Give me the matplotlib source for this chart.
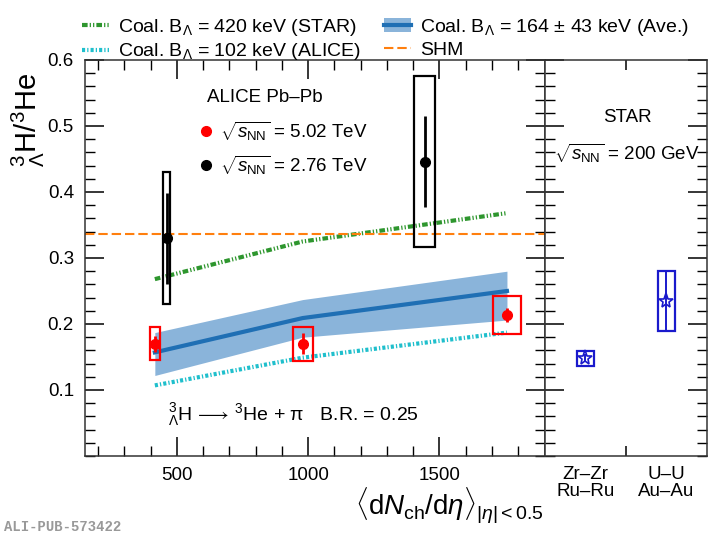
import matplotlib
matplotlib.use("Agg")
import matplotlib.pyplot as plt
from matplotlib.patches import Rectangle, Patch
from matplotlib.lines import Line2D
from matplotlib.ticker import MultipleLocator, FixedLocator, NullFormatter

plt.rcParams['font.family'] = ['Liberation Sans', 'DejaVu Sans']
plt.rcParams['mathtext.fontset'] = 'custom'
plt.rcParams['mathtext.rm'] = 'Liberation Sans'
plt.rcParams['mathtext.it'] = 'Liberation Sans:italic'
plt.rcParams['mathtext.bf'] = 'Liberation Sans:bold'

# ---------------- data ----------------
model_x = [416, 979, 1757]
coal_star = [0.268, 0.325, 0.368]
coal_alice = [0.107, 0.149, 0.187]
coal_ave = [0.157, 0.209, 0.250]
coal_ave_lo = [0.122, 0.180, 0.206]
coal_ave_hi = [0.187, 0.237, 0.280]
shm_value = 0.337

pb502_x = [416, 979, 1757]
pb502_y = [0.170, 0.170, 0.2135]
pb502_stat = [0.012, 0.016, 0.010]
pb502_sys = [0.025, 0.026, 0.029]
pb502_xsys = [20, 38, 52]

pb276_x = [461, 1443]
pb276_y = [0.330, 0.446]
pb276_stat = [0.069, 0.069]
pb276_sys = [0.100, 0.130]
pb276_xsys = [14, 39]

star_labels = ['Zr\u2013Zr\nRu\u2013Ru', 'U\u2013U\nAu\u2013Au']
star_x = [1, 2]
star_y = [0.148, 0.235]
star_stat = [0.006, 0.047]
star_sys = [0.011, 0.045]
star_xsys = [0.105, 0.105]

xticks_left = [500, 1000, 1500]
yticks = [0.1, 0.2, 0.3, 0.4, 0.5, 0.6]

# ---------------- figure ----------------
W, H = 711, 535
fig = plt.figure(figsize=(W / 100, H / 100), dpi=100)
axL = fig.add_axes([85 / W, 1 - 456 / H, (544.5 - 85) / W, (456 - 60) / H])
axR = fig.add_axes([544.5 / W, 1 - 456 / H, (707 - 544.5) / W, (456 - 60) / H])

green = '#2e962e'
cyan = '#1fbfcc'
blue = '#1f6fb4'
band = '#8ab4da'
orange = '#ff7f0e'
starblue = '#1a1acc'

green_dash = (1.35, 0.5, 0.3, 0.5, 0.3, 0.5)
cyan_dash = (0.75, 0.5, 0.3, 0.5)
shm_dash = (4.5, 1.9)

# models
axL.fill_between(model_x, coal_ave_lo, coal_ave_hi, color=band, lw=0, zorder=1)
axL.plot(model_x, coal_ave, color=blue, lw=3, zorder=2)
axL.plot(model_x, coal_star, color=green, lw=3, dashes=green_dash, zorder=2)
axL.plot(model_x, coal_alice, color=cyan, lw=3, dashes=cyan_dash, zorder=2)
axL.axhline(shm_value, color=orange, lw=1.5, dashes=shm_dash, zorder=2)

# data boxes
for x, y, s, xs in zip(pb502_x, pb502_y, pb502_sys, pb502_xsys):
    axL.add_patch(Rectangle((x - xs, y - s), 2 * xs, 2 * s, fill=False,
                            edgecolor='red', lw=1.6, zorder=4))
for x, y, s, xs in zip(pb276_x, pb276_y, pb276_sys, pb276_xsys):
    axL.add_patch(Rectangle((x - xs, y - s), 2 * xs, 2 * s, fill=False,
                            edgecolor='black', lw=1.6, zorder=4))
axL.errorbar(pb502_x, pb502_y, yerr=pb502_stat, fmt='o', color='red', ms=7,
             elinewidth=2, capsize=0, zorder=5)
axL.errorbar(pb276_x, pb276_y, yerr=pb276_stat, fmt='o', color='black', ms=7,
             elinewidth=2, capsize=0, zorder=5)

axL.set_xlim(150, 1900)
axL.set_ylim(0.0, 0.6)
axL.xaxis.set_major_locator(FixedLocator(xticks_left))
axL.xaxis.set_minor_locator(MultipleLocator(100))
axL.yaxis.set_major_locator(FixedLocator(yticks))
axL.yaxis.set_minor_locator(MultipleLocator(0.02))
axL.set_yticklabels(['%.1f' % v for v in yticks])
axL.tick_params(which='both', direction='in', top=True, right=True,
                labelsize=13.5, pad=8)
axL.tick_params(axis='x', pad=8)
axL.tick_params(which='major', length=14, width=1.1)
axL.tick_params(which='minor', length=7, width=1.0)

# STAR panel
for x, y, s, xs in zip(star_x, star_y, star_sys, star_xsys):
    axR.add_patch(Rectangle((x - xs, y - s), 2 * xs, 2 * s, fill=False,
                            edgecolor=starblue, lw=1.6, zorder=4))
axR.errorbar(star_x, star_y, yerr=star_stat, fmt='*', color=starblue, mfc='none',
             ms=11, mew=1.2, elinewidth=1.4, capsize=0, zorder=5)
axR.set_xlim(0.5, 2.5)
axR.set_ylim(0.0, 0.6)
axR.xaxis.set_major_locator(FixedLocator([1.5]))
axR.xaxis.set_major_formatter(NullFormatter())
axR.yaxis.set_major_locator(FixedLocator(yticks))
axR.yaxis.set_minor_locator(MultipleLocator(0.02))
axR.yaxis.set_major_formatter(NullFormatter())
axR.tick_params(which='both', direction='in', top=True, right=True, left=True)
axR.tick_params(which='major', length=14, width=1.1)
axR.tick_params(which='minor', length=7, width=1.0)
axR.tick_params(axis='x', which='major', length=7)
for x, lab in zip(star_x, star_labels):
    axR.text(x, -0.025, lab, transform=axR.get_xaxis_transform(), ha='center',
             va='top', fontsize=13.5, linespacing=1.0)

for ax in (axL, axR):
    for sp in ax.spines.values():
        sp.set_linewidth(1.1)
        sp.set_color('#333333')

# texts
fig.text(207 / W, 1 - 98 / H, 'ALICE Pb\u2013Pb', fontsize=13.5, va='center')
fig.text(220 / W, 1 - 131 / H, r'$\sqrt{s_{\mathrm{NN}}}$ = 5.02 TeV', fontsize=13.5, va='center')
fig.text(220 / W, 1 - 165 / H, r'$\sqrt{s_{\mathrm{NN}}}$ = 2.76 TeV', fontsize=13.5, va='center')
fig.add_artist(Line2D([206 / W], [1 - 131 / H], marker='o', color='red', ms=7))
fig.add_artist(Line2D([206 / W], [1 - 165 / H], marker='o', color='black', ms=7))
fig.text(627 / W, 1 - 118 / H, 'STAR', fontsize=13.5, ha='center', va='center')
fig.text(627 / W, 1 - 153 / H, r'$\sqrt{s_{\mathrm{NN}}}$ = 200 GeV', fontsize=13.5,
         ha='center', va='center')
fig.text(168 / W, 1 - 415 / H,
         r'${}^{3}_{\Lambda}$H$\,\longrightarrow\,{}^{3}$He + π   B.R. = 0.25',
         fontsize=14, va='center')

fig.text(28 / W, 1 - 120 / H, r'${}^{3}_{\Lambda}\mathrm{H}/{}^{3}\mathrm{He}$',
         rotation=90, fontsize=21, ha='center', va='center')
fig.text(544 / W, 1 - 506 / H,
         r'$\langle \mathrm{d}N_{\mathrm{ch}}/\mathrm{d}\eta\rangle_{|\eta|<0.5}$',
         fontsize=20, ha='right', va='center')
fig.text(4 / W, 1 - 527 / H, 'ALI-PUB-573422', fontsize=10, color='#999999',
         family='Liberation Mono', weight='bold', va='center')

# legend
h_green = Line2D([], [], color=green, lw=3, dashes=green_dash)
h_cyan = Line2D([], [], color=cyan, lw=3, dashes=cyan_dash)
h_band = (Patch(facecolor=band, edgecolor='none'), Line2D([], [], color=blue, lw=3))
h_shm = Line2D([], [], color=orange, lw=1.5, dashes=shm_dash)
fig.legend([h_green, h_cyan, h_band, h_shm],
           [r'Coal. B$_{\Lambda}$ = 420 keV (STAR)', r'Coal. B$_{\Lambda}$ = 102 keV (ALICE)',
            r'Coal. B$_{\Lambda}$ = 164 $\pm$ 43 keV (Ave.)', 'SHM'],
           ncol=2, loc='upper left', bbox_to_anchor=(68 / W, 1 - 3 / H), frameon=False,
           fontsize=14, handlelength=1.4, handletextpad=0.45, columnspacing=1.2,
           labelspacing=0.2, borderpad=0.2)

fig.savefig('out.png', dpi=100)
